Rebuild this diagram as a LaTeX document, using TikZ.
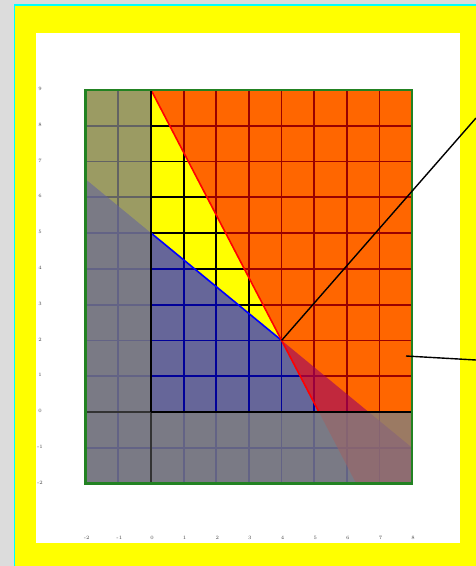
\documentclass[tikz,border=0pt]{standalone}
\usetikzlibrary{calc}
\definecolor{framegray}{RGB}{220,220,220}
\definecolor{framecyan}{RGB}{0,255,255}
\definecolor{ovgray}{RGB}{128,128,128}
\definecolor{bordergreen}{RGB}{34,130,34}
\definecolor{labgray}{RGB}{70,70,70}
\definecolor{pureyellow}{RGB}{255,255,0}
\definecolor{purered}{RGB}{255,0,0}
\definecolor{pureblue}{RGB}{0,0,255}
\tikzset{
  gridline/.style={black,line width=1.8pt},
  overlayblue/.style={fill=pureblue,fill opacity=0.6},
  overlayred/.style={fill=purered,fill opacity=0.6},
  overlaygray/.style={fill=ovgray,fill opacity=0.78},
  axisline/.style={black,line width=2.6pt},
  axisthin/.style={black!80,line width=1.8pt},
  ticklab/.style={font=\fontsize{5}{5}\selectfont,text=labgray,inner sep=0pt},
  callout/.style={black,line width=1.4pt},
}
\begin{document}
\begin{tikzpicture}[x=32.65pt,y=35.8pt]
\useasboundingbox (-151pt,-154pt) rectangle (325pt,412pt);
% frame
\fill[framegray] (-151pt,-154pt) rectangle (325pt,412pt);
\fill[framecyan] (-137pt,-154pt) rectangle (325pt,407.5pt);
\fill[pureyellow] (-136pt,-154pt) rectangle (325pt,406pt);
\fill[white] (-115pt,-131pt) rectangle (309pt,379pt);
% base
\fill[pureyellow] (-2,-2) rectangle (8,9);
\foreach \i in {-2,...,8} \draw[gridline] (\i,-2) -- (\i,9);
\foreach \j in {-2,...,9} \draw[gridline] (-2,\j) -- (8,\j);
% constraint regions
\fill[overlayblue] (-2,6.5) -- (8,-1) -- (8,-2) -- (-2,-2) -- cycle;
\fill[overlayred] (0,9) -- (8,9) -- (8,-2) -- (44/7,-2) -- cycle;
% non-negativity shading
\fill[overlaygray] (-2,-2) rectangle (0,9);
\fill[overlaygray] (0,-2) rectangle (8,0);
% boundary lines
\coordinate (P) at (4,2);
\coordinate (B0) at (0,5);
\coordinate (R0) at (0,9);
\coordinate (R1) at (36/7,0);
\draw[pureblue,line width=1.6pt] (B0) -- (P);
\draw[purered,line width=1.6pt] (R0) -- (P) -- (R1);
% axes
\draw[axisthin] (-2,0) -- (0,0);
\draw[axisthin] (0,-2) -- (0,0);
\draw[axisline] (0,0) -- (8,0);
\draw[axisline] (0,0) -- (0,9);
% border
\draw[bordergreen,line width=2.4pt] (-2,-2) rectangle (8,9);
% tick labels
\foreach \j in {-2,...,9} \node[ticklab] (yl\j) at (-111pt,\j*35.8pt+1pt) {\j};
\foreach \i in {-2,...,8} \node[ticklab] (xl\i) at (\i*32.65pt+1pt,-126pt) {\i};
% callouts
\coordinate (C1) at (325pt,294pt);
\coordinate (Q) at (255pt,56pt);
\coordinate (C2) at (325pt,52pt);
\draw[callout] (P) -- (C1);
\draw[callout] (Q) -- (C2);
\end{tikzpicture}
\end{document}
